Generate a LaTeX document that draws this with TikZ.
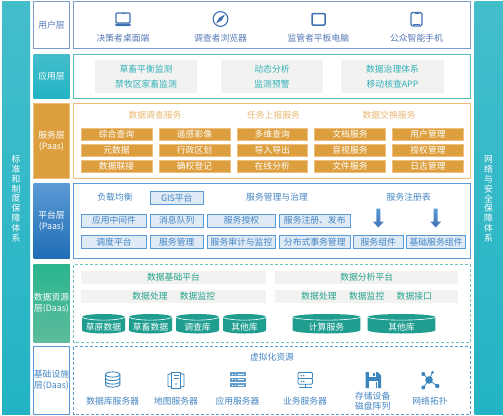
\documentclass[tikz,border=0pt]{standalone}
\usepackage{fontspec}
\setmainfont{Noto Sans CJK SC}
\usetikzlibrary{calc}
\definecolor{uc}{HTML}{5578B5}
\definecolor{ub}{HTML}{7C9BD3}
\definecolor{ui}{HTML}{3F72B4}
\definecolor{tc}{HTML}{2FB0B8}
\definecolor{tt}{HTML}{44BDCB}
\definecolor{tl}{HTML}{22B4C4}
\definecolor{tb}{HTML}{55BBB4}
\definecolor{og}{HTML}{DD9F3E}
\definecolor{ol}{HTML}{EDBE7E}
\definecolor{pb}{HTML}{5B9BD5}
\definecolor{pl}{HTML}{1F6DB5}
\definecolor{pc}{HTML}{4485C2}
\definecolor{pf}{HTML}{DFEAF7}
\definecolor{dg}{HTML}{1F9E8F}
\definecolor{dt}{HTML}{25A28D}
\definecolor{dd}{HTML}{6CC5BC}
\definecolor{dh}{HTML}{2BB58F}
\definecolor{dl}{HTML}{5CBB9B}
\definecolor{gy}{HTML}{F2F2F0}
\definecolor{ic}{HTML}{3C86BF}
\tikzset{
  x=1pt,y=-1pt,
  every node/.style={font=\fontsize{8.8}{10}\selectfont,inner sep=0pt,outer sep=0pt},
  basebox/.style={draw,line width=.9pt},
  userhead/.style={basebox,draw=ub,fill=white,text=uc},
  usercontent/.style={basebox,draw=ub,fill=white},
  apphead/.style={top color=tt,bottom color=tl,text=white},
  appcontent/.style={basebox,draw=tb,fill=white},
  greybox/.style={fill=gy},
  svchead/.style={basebox,draw=ol,fill=og,text=white},
  svccontent/.style={basebox,draw=ol,fill=white},
  svcbox/.style={basebox,draw=ol,fill=og,text=white},
  plathead/.style={top color=pb,bottom color=pl,text=white},
  platcontent/.style={basebox,draw=pb,fill=white},
  platbox/.style={basebox,draw=pb,fill=pf,text=pc},
  datahead/.style={top color=dh,bottom color=dl,text=white},
  datacontent/.style={dash pattern=on 3pt off 2pt,line width=.9pt,draw=dd},
  infrahead/.style={basebox,draw=pb,fill=white,text=pc},
  infracontent/.style={dash pattern=on 3pt off 2pt,line width=.9pt,draw=pb},
  sidebar/.style={top color=tt,bottom color=tl,text=white},
  utext/.style={text=uc},
  atext/.style={text=tc},
  otext/.style={text=ol!80!og},
  ptext/.style={text=pc},
  dtext/.style={text=dt},
  itext/.style={text=pc},
  iconline/.style={draw=ic,line width=.9pt},
  iconuser/.style={draw=ui,line width=1.1pt},
}
% style, name, x1,y1,x2,y2, text
\newcommand\bx[7]{%
  \pgfmathsetmacro\bw{#5-#3}\pgfmathsetmacro\bh{#6-#4}%
  \pgfmathsetmacro\bcx{(#3+#5)/2}\pgfmathsetmacro\bcy{(#4+#6)/2}%
  \node[#1,minimum width=\bw pt,minimum height=\bh pt,align=center] (#2) at (\bcx,\bcy) {#7};}
\newcommand\tx[5]{\node[#1,align=center] (#2) at (#3,#4) {#5};}
% name, x1, x2, label
\newcommand\cyl[4]{%
  \pgfmathsetmacro\ccx{(#2+#3)/2}\pgfmathsetmacro\crx{(#3-#2)/2}%
  \fill[dg] (#2,317) arc[start angle=180,end angle=0,x radius=\crx pt,y radius=3pt]
     -- (#3,330) .. controls (#3,332.5) and (#2+\crx*1.4,333.5) .. (\ccx,333.5) .. controls (#2+\crx*.6,333.5) and (#2,332.5) .. (#2,330) -- cycle;
  \draw[white,line width=.6pt] (#2,317.5) .. controls (#2+\crx*.4,321) and (#3-\crx*.4,321) .. (#3,317.5);
  \node[text=white] (#1) at (\ccx,327.5) {#4};}
\newcommand\darrow[3]{% name,x,
  \coordinate (#1) at (#2,#3);
  \shade[top color=pb,bottom color=ui] ($(#1)+(-2,0)$) -- ($(#1)+(2,0)$) -- ($(#1)+(2,13)$) -- ($(#1)+(5.5,13)$) -- ($(#1)+(0,19)$) -- ($(#1)+(-5.5,13)$) -- ($(#1)+(-2,13)$) -- cycle;}
\begin{document}
\begin{tikzpicture}
\useasboundingbox (0,0) rectangle (503,415);
\fill[white] (0,0) rectangle (503,415);
% side bars
\bx{sidebar}{leftbar}{2}{1}{30}{414}{}
\bx{sidebar}{rightbar}{474.5}{1}{503}{414}{}
\foreach \c [count=\i from 0] in {标,准,和,制,度,保,障,体,系}{\node[text=white] at (16,159+\i*9.9) {\c};}
\foreach \c [count=\i from 0] in {网,络,与,安,全,保,障,体,系}{\node[text=white] at (488.5,159+\i*9.9) {\c};}
% user layer
\bx{userhead}{uh}{33.5}{1}{69.5}{48.5}{用户层}
\bx{usercontent}{uc}{73.5}{1}{470.5}{48.5}{}
\tx{utext}{u1}{123}{38}{决策者桌面端}
\tx{utext}{u2}{220.5}{38}{调查者浏览器}
\tx{utext}{u3}{318.3}{38}{监管者平板电脑}
\tx{utext}{u4}{416.5}{38}{公众智能手机}
\draw[iconuser,rounded corners=1pt] (116,13) rectangle (130,23);
\fill[ui,rounded corners=.8pt] (115.3,23.5) rectangle (130.7,26);
\fill[ui] (121.5,13) rectangle (124.5,14.2);
\draw[iconuser] (220.5,19) circle[radius=7.4pt];
\fill[ui] (225,14.5) -- (221.8,20.3) -- (216,23.5) -- (219.2,17.7) -- cycle;
\draw[iconuser,line width=1.5pt,rounded corners=1pt] (312,13.5) rectangle (325,25);
\draw[iconuser,rounded corners=1.5pt] (411,12.5) rectangle (422,26);
\fill[ui] (414.5,12.5) rectangle (418.5,14);
\draw[ui,line width=.8pt] (413,24) -- (420,24);
% app layer
\bx{apphead}{ah}{33.5}{54}{69.5}{98}{应用层}
\bx{appcontent}{ac}{73.5}{54}{470.5}{98}{}
\bx{greybox}{ag1}{95}{60}{197}{92.5}{}
\bx{greybox}{ag2}{220.5}{60}{323.3}{92.5}{}
\bx{greybox}{ag3}{341}{60}{444}{92.5}{}
\tx{atext}{a1}{146}{69.5}{草畜平衡监测}
\tx{atext}{a2}{146}{84.5}{禁牧区家畜监测}
\tx{atext}{a3}{272}{69.5}{动态分析}
\tx{atext}{a4}{272}{84.5}{监测预警}
\tx{atext}{a5}{392.5}{69.5}{数据治理体系}
\tx{atext}{a6}{392.5}{84.5}{移动核查APP}
% service layer
\bx{svchead}{sh}{33.5}{103.5}{69.5}{178.5}{服务层\\[1pt](Paas)}
\bx{svccontent}{sc}{73.5}{103.5}{470.5}{178.5}{}
\tx{otext}{s0a}{155}{115.5}{数据调查服务}
\tx{otext}{s0b}{273.5}{115.5}{任务上报服务}
\tx{otext}{s0c}{389}{115.5}{数据交换服务}
\bx{svcbox}{s11}{81}{128.5}{152}{140.5}{综合查询}
\bx{svcbox}{s12}{159}{128.5}{230}{140.5}{遥感影像}
\bx{svcbox}{s13}{237}{128.5}{307.5}{140.5}{多维查询}
\bx{svcbox}{s14}{314.5}{128.5}{385.5}{140.5}{文档服务}
\bx{svcbox}{s15}{392.5}{128.5}{463.5}{140.5}{用户管理}
\bx{svcbox}{s21}{81}{144.5}{152}{156.5}{元数据}
\bx{svcbox}{s22}{159}{144.5}{230}{156.5}{行政区划}
\bx{svcbox}{s23}{237}{144.5}{307.5}{156.5}{导入导出}
\bx{svcbox}{s24}{314.5}{144.5}{385.5}{156.5}{音视服务}
\bx{svcbox}{s25}{392.5}{144.5}{463.5}{156.5}{授权管理}
\bx{svcbox}{s31}{81}{160.5}{152}{172.5}{数据联接}
\bx{svcbox}{s32}{159}{160.5}{230}{172.5}{确权登记}
\bx{svcbox}{s33}{237}{160.5}{307.5}{172.5}{在线分析}
\bx{svcbox}{s34}{314.5}{160.5}{385.5}{172.5}{文件服务}
\bx{svcbox}{s35}{392.5}{160.5}{463.5}{172.5}{日志管理}
% platform layer
\bx{plathead}{ph}{33.5}{183}{69.5}{258.7}{平台层\\[1pt](Paas)}
\bx{platcontent}{pc}{73.5}{183}{470.5}{258.7}{}
\tx{ptext}{p0a}{115}{196.7}{负载均衡}
\bx{platbox}{p0b}{150}{191.5}{203.5}{204}{GIS平台}
\tx{ptext}{p0c}{277}{196.7}{服务管理与治理}
\tx{ptext}{p0d}{408.7}{196.7}{服务注册表}
\bx{platbox}{p11}{81.5}{214}{146.5}{227}{应用中间件}
\bx{platbox}{p12}{150}{214}{203.5}{227}{消息队列}
\bx{platbox}{p13}{207.5}{214}{275.5}{227}{服务授权}
\bx{platbox}{p14}{279.5}{214}{350}{227}{服务注册、发布}
\bx{platbox}{p21}{81.5}{235.5}{146.5}{248}{调度平台}
\bx{platbox}{p22}{150}{235.5}{203.5}{248}{服务管理}
\bx{platbox}{p23}{207.5}{235.5}{275.5}{248}{服务审计与监控}
\bx{platbox}{p24}{279.5}{235.5}{350}{248}{分布式事务管理}
\bx{platbox}{p25}{353.5}{235.5}{403}{248}{服务组件}
\bx{platbox}{p26}{406.5}{235.5}{465.5}{248}{基础服务组件}
\darrow{ar1}{378.3}{208.5}
\darrow{ar2}{435.7}{208.5}
% data layer
\bx{datahead}{dh}{33.5}{264.5}{69.5}{342}{}
\node[text=white,align=center] (dhl) at (51.5,303.5) {数据资源\\[1pt]层(Daas)};
\draw[datacontent] (73.5,264.5) rectangle (470.5,342);
\bx{greybox}{dg1}{81}{271}{266}{283.5}{}
\bx{greybox}{dg2}{275}{271}{458}{283.5}{}
\bx{greybox}{dg3}{81}{290}{266}{302.5}{}
\bx{greybox}{dg4}{275}{290}{458}{302.5}{}
\tx{dtext}{d1}{173.5}{277}{数据基础平台}
\tx{dtext}{d2}{366.7}{277}{数据分析平台}
\tx{dtext}{d3}{150}{296}{数据处理}
\tx{dtext}{d4}{197.5}{296}{数据监控}
\tx{dtext}{d5}{319}{296}{数据处理}
\tx{dtext}{d6}{366.7}{296}{数据监控}
\tx{dtext}{d7}{414.3}{296}{数据接口}
\cyl{c1}{82}{125}{草原数据}
\cyl{c2}{129}{172}{草畜数据}
\cyl{c3}{176}{219}{调查库}
\cyl{c4}{223}{266}{其他库}
\cyl{c5}{292.7}{360.3}{计算服务}
\cyl{c6}{367.7}{435.3}{其他库}
% infrastructure layer
\bx{infrahead}{ih}{33.5}{346.5}{69.5}{414}{}
\node[text=pc,align=center] (ihl) at (51.5,380.5) {基础设施\\[1pt]层(Daas)};
\draw[infracontent] (73.5,346.5) rectangle (470.5,414);
\tx{itext}{i0}{272}{356.7}{虚拟化资源}
\tx{itext}{i1}{112.7}{401}{数据库服务器}
\tx{itext}{i2}{176}{401}{地图服务器}
\tx{itext}{i3}{237.5}{401}{应用服务器}
\tx{itext}{i4}{305}{401}{业务服务器}
\tx{itext}{i5}{372.7}{401}{存储设备\\[.5pt]磁盘阵列}
\tx{itext}{i6}{430}{401}{网络拓扑}
% db icon
\draw[iconline] (105.5,374.5) -- (105.5,384.5) arc[start angle=180,end angle=360,x radius=7.2pt,y radius=2.6pt] -- (119.9,374.5);
\draw[iconline] (112.7,374.5) ellipse[x radius=7.2pt,y radius=2.6pt];
\draw[iconline] (105.5,378) arc[start angle=180,end angle=360,x radius=7.2pt,y radius=2.6pt];
\draw[iconline] (105.5,381.5) arc[start angle=180,end angle=360,x radius=7.2pt,y radius=2.6pt];
% map server icon
\draw[iconline] (171.5,372.5) rectangle (180.5,388);
\draw[iconline] (171.5,373.5) -- (168,374.5) -- (168,386.5) -- (171.5,387);
\draw[iconline] (180.5,373.5) -- (184,374.5) -- (184,386.5) -- (180.5,387);
\draw[ic,line width=.7pt] (173.5,375.5) -- (178.5,375.5) (173.5,378) -- (178.5,378);
\fill[ic] (176,384) circle[radius=.9pt];
% app server icon
\foreach \yy in {372,377.5,383}{
 \fill[ic!80!white] (229.5,\yy) rectangle (245.5,\yy+4.4);
 \fill[white] (231.5,\yy+1.5) rectangle (233,\yy+2.9);
 \fill[white] (234.5,\yy+1.5) rectangle (236,\yy+2.9);
 \draw[white,line width=.6pt] (238,\yy+2.2) -- (244,\yy+2.2);
}
% business server icon
\draw[iconline,rounded corners=1pt] (298,372.5) rectangle (312.5,378.5);
\draw[iconline,rounded corners=1pt] (298,378.5) rectangle (312.5,384.2);
\fill[ic] (300.5,375) rectangle (301.8,376.2) (303,375) rectangle (304.3,376.2);
\fill[ic] (300.5,380.8) rectangle (301.8,382) (303,380.8) rectangle (304.3,382);
\draw[iconline] (305.2,384.2) -- (305.2,387) (298.5,387.3) -- (312,387.3);
% storage icon
\fill[ic] (365.5,372) -- (377.5,372) -- (381,375.5) -- (381,388) -- (365.5,388) -- cycle;
\fill[white] (369,372) rectangle (376,376.5);
\fill[ic] (373,372.8) rectangle (375,375.7);
\fill[white] (368.5,380.5) rectangle (378,388);
\fill[ic] (369.5,381.5) rectangle (377,388);
\fill[white] (370.3,382.3) rectangle (376.2,388);
% network icon
\coordinate (nc) at (429,380);
\foreach \nx/\ny/\nr in {423.3/374/2, 432.5/372.3/1.5, 437.3/386/2.2, 423.3/387.5/2}{
 \draw[ic,line width=.8pt] (nc) -- (\nx,\ny);
 \fill[ic] (\nx,\ny) circle[radius=\nr pt];
}
\fill[ic] (nc) circle[radius=3.8pt];
\end{tikzpicture}
\end{document}
